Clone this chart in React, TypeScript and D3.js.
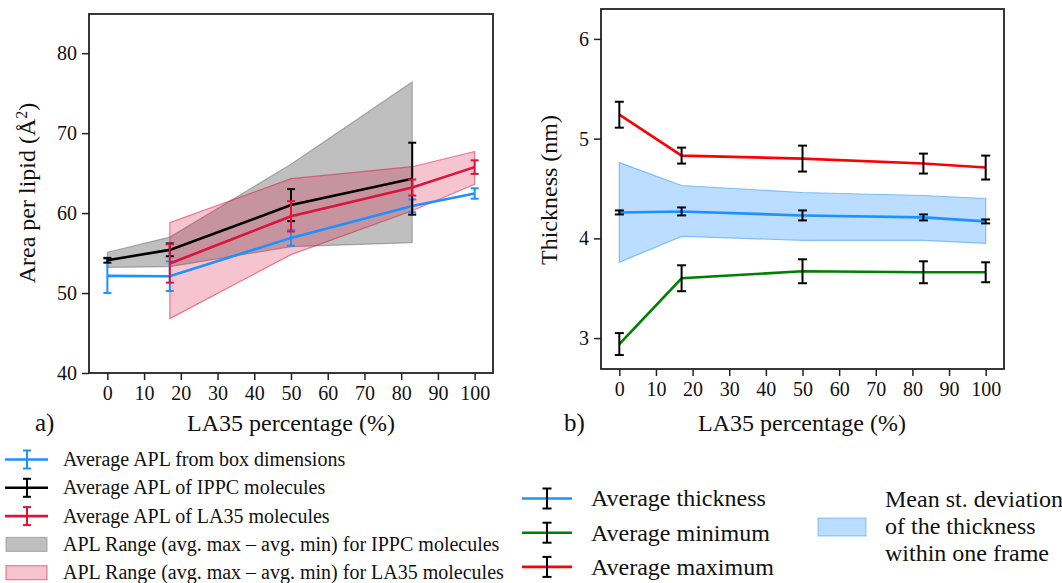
import React, { useEffect, useRef } from 'react'
import * as d3 from 'd3'

// LA35 percentage of each simulated system
const xPct = [0, 17, 50, 83, 100]
const xIppc = [0, 17, 50, 83]
const xLa35 = [17, 50, 83, 100]
const xTicks = [0, 10, 20, 30, 40, 50, 60, 70, 80, 90, 100]

// panel a) area per lipid (Å^2)
const aplBox = [52.15, 52.1, 56.9, 60.9, 62.45]
const aplBoxErr = [2.15, 1.85, 1.0, 0.8, 0.65]
const aplIppc = [54.1, 55.4, 61.0, 64.3]
const aplIppcErr = [0.3, 0.8, 2.0, 4.5]
const aplLa35 = [53.7, 59.6, 63.2, 65.75]
const aplLa35Err = [2.4, 1.9, 1.0, 0.85]
const ippcRangeMax = [55.1, 57.0, 66.1, 76.4]
const ippcRangeMin = [53.2, 53.3, 55.8, 56.3]
const la35RangeMax = [58.8, 64.3, 65.8, 67.7]
const la35RangeMin = [46.8, 54.8, 60.3, 63.6]
const aplTicks = [40, 50, 60, 70, 80]

// panel b) thickness (nm)
const thickAvg = [4.26, 4.27, 4.23, 4.21, 4.17]
const thickAvgErr = [0.02, 0.04, 0.05, 0.03, 0.02]
const thickMin = [2.94, 3.6, 3.67, 3.66, 3.66]
const thickMinErr = [0.11, 0.13, 0.12, 0.11, 0.1]
const thickMax = [5.24, 4.83, 4.8, 4.75, 4.71]
const thickMaxErr = [0.13, 0.08, 0.13, 0.1, 0.12]
const sdUpper = [4.76, 4.53, 4.46, 4.43, 4.4]
const sdLower = [3.76, 4.02, 3.98, 3.98, 3.95]
const thickTicks = [3, 4, 5, 6]

const legendA = [
  'Average APL from box dimensions',
  'Average APL of IPPC molecules',
  'Average APL of LA35 molecules',
  'APL Range (avg. max \u2013 avg. min) for IPPC molecules',
  'APL Range (avg. max \u2013 avg. min) for LA35 molecules',
]
const legendB = ['Average thickness', 'Average minimum', 'Average maximum']
const legendBand = ['Mean st. deviation', 'of the thickness', 'within one frame']

const FONT = '"Liberation Serif", "Times New Roman", serif'
const BLUE = '#1e90ff'
const CRIMSON = '#dc143c'

export default function App() {
  const ref = useRef(null)

  useEffect(() => {
    const svg = d3.select(ref.current)
    svg.selectAll('*').remove()
    svg.append('rect').attr('width', 1062).attr('height', 583).attr('fill', 'white')

    const axes = (g, x, y, yTicks, w, h) => {
      g.append('g')
        .attr('transform', `translate(0,${h})`)
        .call(d3.axisBottom(x).tickValues(xTicks).tickFormat(d3.format('d')).tickSize(7).tickPadding(6))
      g.append('g')
        .call(d3.axisLeft(y).tickValues(yTicks).tickFormat(d3.format('d')).tickSize(7).tickPadding(5))
      g.selectAll('.domain').remove()
      g.selectAll('.tick line').attr('stroke', '#222').attr('stroke-width', 1.5)
      g.selectAll('.tick text')
        .attr('font-family', FONT).attr('font-size', 20).attr('fill', '#111')
      g.append('rect')
        .attr('width', w).attr('height', h)
        .attr('fill', 'none').attr('stroke', '#222').attr('stroke-width', 1.8)
    }

    const band = (g, x, y, xs, lo, hi, fill, op, stroke) => {
      const area = d3.area()
        .x((d, i) => x(xs[i]))
        .y0((d, i) => y(lo[i]))
        .y1((d, i) => y(hi[i]))
      g.append('path')
        .datum(xs)
        .attr('d', area)
        .attr('fill', fill).attr('fill-opacity', op)
        .attr('stroke', stroke).attr('stroke-opacity', 0.5).attr('stroke-width', 1.2)
    }

    const series = (g, x, y, xs, ys, err, color, errColor, cap) => {
      const line = d3.line().x((d, i) => x(xs[i])).y(d => y(d))
      g.append('path')
        .datum(ys)
        .attr('d', line)
        .attr('fill', 'none').attr('stroke', color).attr('stroke-width', 2.6)
      const eb = g.append('g').attr('stroke', errColor).attr('stroke-width', 2)
      ys.forEach((v, i) => {
        const cx = x(xs[i])
        eb.append('line').attr('x1', cx).attr('x2', cx).attr('y1', y(v - err[i])).attr('y2', y(v + err[i]))
        eb.append('line').attr('x1', cx - cap).attr('x2', cx + cap).attr('y1', y(v - err[i])).attr('y2', y(v - err[i]))
        eb.append('line').attr('x1', cx - cap).attr('x2', cx + cap).attr('y1', y(v + err[i])).attr('y2', y(v + err[i]))
      })
    }

    const label = (x0, y0, text, rotate = false) =>
      svg.append('text')
        .attr('transform', `translate(${x0},${y0})${rotate ? ' rotate(-90)' : ''}`)
        .attr('text-anchor', 'middle')
        .attr('font-family', FONT).attr('font-size', 24).attr('fill', '#111')
        .text(text)

    // ---- panel a)
    const aL = 89, aT = 14, aW = 404, aH = 359
    const xa = d3.scaleLinear().domain([-5, 105]).range([0, aW])
    const ya = d3.scaleLinear().domain([40, 84.9]).range([aH, 0])
    const ga = svg.append('g').attr('transform', `translate(${aL},${aT})`)
    band(ga, xa, ya, xIppc, ippcRangeMin, ippcRangeMax, '#808080', 0.5, '#6e6e6e')
    band(ga, xa, ya, xLa35, la35RangeMin, la35RangeMax, CRIMSON, 0.25, CRIMSON)
    series(ga, xa, ya, xPct, aplBox, aplBoxErr, BLUE, BLUE, 4)
    series(ga, xa, ya, xIppc, aplIppc, aplIppcErr, 'black', 'black', 4)
    series(ga, xa, ya, xLa35, aplLa35, aplLa35Err, CRIMSON, CRIMSON, 4)
    axes(ga, xa, ya, aplTicks, aW, aH)

    label(291, 431, 'LA35 percentage (%)')
    const yl = label(35, 193, 'Area per lipid (\u00c5', true)
    yl.append('tspan').attr('baseline-shift', 'super').attr('font-size', 16).text('2')
    yl.append('tspan').text(')')
    svg.append('text').attr('x', 35).attr('y', 431)
      .attr('font-family', FONT).attr('font-size', 25).attr('fill', '#111').text('a)')

    // ---- panel b)
    const bL = 601, bT = 9, bW = 403, bH = 360
    const xb = d3.scaleLinear().domain([-5, 105]).range([0, bW])
    const yb = d3.scaleLinear().domain([2.69, 6.3]).range([bH, 0])
    const gb = svg.append('g').attr('transform', `translate(${bL},${bT})`)
    band(gb, xb, yb, xPct, sdLower, sdUpper, BLUE, 0.3, BLUE)
    series(gb, xb, yb, xPct, thickAvg, thickAvgErr, BLUE, 'black', 4.5)
    series(gb, xb, yb, xPct, thickMin, thickMinErr, 'green', 'black', 4.5)
    series(gb, xb, yb, xPct, thickMax, thickMaxErr, 'red', 'black', 4.5)
    axes(gb, xb, yb, thickTicks, bW, bH)

    label(802, 431, 'LA35 percentage (%)')
    label(557, 190, 'Thickness (nm)', true)
    svg.append('text').attr('x', 564).attr('y', 431)
      .attr('font-family', FONT).attr('font-size', 25).attr('fill', '#111').text('b)')

    // ---- legend a)
    const legA = svg.append('g')
    const aColors = [BLUE, 'black', CRIMSON]
    legendA.forEach((t, i) => {
      const cy = 459.5 + i * 28.3
      const row = legA.append('g')
      if (i < 3) {
        const c = aColors[i]
        row.append('line').attr('x1', 5).attr('x2', 48).attr('y1', cy).attr('y2', cy)
          .attr('stroke', c).attr('stroke-width', 2.6)
        row.append('line').attr('x1', 27).attr('x2', 27).attr('y1', cy - 9).attr('y2', cy + 9)
          .attr('stroke', c).attr('stroke-width', 2)
        row.append('line').attr('x1', 23).attr('x2', 31).attr('y1', cy - 9).attr('y2', cy - 9)
          .attr('stroke', c).attr('stroke-width', 2)
        row.append('line').attr('x1', 23).attr('x2', 31).attr('y1', cy + 9).attr('y2', cy + 9)
          .attr('stroke', c).attr('stroke-width', 2)
      } else {
        const c = i === 3 ? '#808080' : CRIMSON
        row.append('rect').attr('x', 6).attr('y', cy - 7).attr('width', 41).attr('height', 14)
          .attr('fill', c).attr('fill-opacity', i === 3 ? 0.5 : 0.25)
          .attr('stroke', c).attr('stroke-opacity', 0.5).attr('stroke-width', 1.2)
      }
      row.append('text').attr('x', 63).attr('y', cy).attr('dy', '0.33em')
        .attr('font-family', FONT).attr('font-size', 20).attr('fill', '#111').text(t)
    })

    // ---- legend b)
    const legB = svg.append('g')
    const bColors = [BLUE, 'green', 'red']
    legendB.forEach((t, i) => {
      const cy = 498.5 + i * 34.2
      legB.append('line').attr('x1', 522).attr('x2', 572).attr('y1', cy).attr('y2', cy)
        .attr('stroke', bColors[i]).attr('stroke-width', 2.6)
      const eb = legB.append('g').attr('stroke', 'black').attr('stroke-width', 2)
      eb.append('line').attr('x1', 547).attr('x2', 547).attr('y1', cy - 10).attr('y2', cy + 10)
      eb.append('line').attr('x1', 542.5).attr('x2', 551.5).attr('y1', cy - 10).attr('y2', cy - 10)
      eb.append('line').attr('x1', 542.5).attr('x2', 551.5).attr('y1', cy + 10).attr('y2', cy + 10)
      legB.append('text').attr('x', 591).attr('y', cy).attr('dy', '0.33em')
        .attr('font-family', FONT).attr('font-size', 24).attr('fill', '#111').text(t)
    })
    legB.append('rect').attr('x', 818).attr('y', 518).attr('width', 48).attr('height', 18)
      .attr('fill', BLUE).attr('fill-opacity', 0.3)
      .attr('stroke', BLUE).attr('stroke-opacity', 0.4).attr('stroke-width', 1.2)
    legendBand.forEach((t, i) => {
      legB.append('text').attr('x', 885).attr('y', 506.5 + i * 27)
        .attr('font-family', FONT).attr('font-size', 24).attr('fill', '#111').text(t)
    })
  }, [])

  return (
    <svg
      ref={ref}
      width={1062}
      height={583}
      style={{ position: 'absolute', left: 0, top: 0, display: 'block' }}
    />
  )
}
